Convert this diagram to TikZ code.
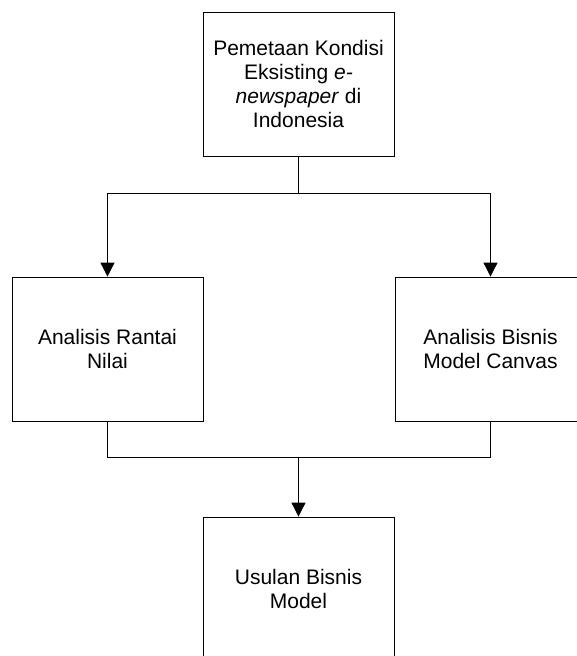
\documentclass[tikz,border=0pt]{standalone}
\usepackage{fontspec}
\setmainfont{Liberation Sans}
\usetikzlibrary{arrows.meta}
\tikzset{
  kotak/.style={draw, line width=0.8pt, minimum width=191pt, minimum height=144pt,
    align=center, inner sep=0pt, font=\fontsize{21}{24}\selectfont},
  panah/.style={-{Triangle[width=14pt,length=14pt]}},
}
\begin{document}
\begin{tikzpicture}[x=1pt, y=-1pt, line width=0.8pt]
	\useasboundingbox (0, 0) rectangle (577, 656);
	\clip (0, 0) rectangle (577, 656);
	\node[kotak] (pemetaan) at (298.5, 84) {Pemetaan Kondisi\\Eksisting \textit{e-}\\\textit{newspaper} di\\Indonesia};
	\node[kotak] (rantai) at (107.5, 349) {Analisis Rantai\\Nilai};
	\node[kotak] (canvas) at (490.5, 349) {Analisis Bisnis\\Model Canvas};
	\node[kotak] (usulan) at (298.5, 589) {Usulan Bisnis\\Model};
	\coordinate (cabang) at (298.5, 193);
	\coordinate (gabung) at (298.5, 457);
	\draw (pemetaan.south) -- (cabang);
	\draw[panah] (cabang) -| (rantai.north);
	\draw[panah] (cabang) -| (canvas.north);
	\draw (rantai.south) |- (gabung);
	\draw (canvas.south) |- (gabung);
	\draw[panah] (gabung) -- (usulan.north);
\end{tikzpicture}
\end{document}
